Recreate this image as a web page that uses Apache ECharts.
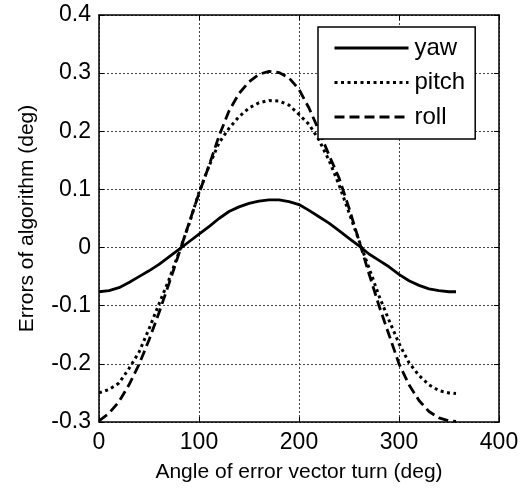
<!DOCTYPE html>
<html>
<head>
<meta charset="utf-8">
<script src="https://cdn.jsdelivr.net/npm/echarts@6/dist/echarts.min.js"></script>
<style>
  html, body { margin: 0; padding: 0; background: #fff; }
  #chart { width: 524px; height: 488px; }
</style>
</head>
<body>
<div id="chart"></div>
<script>
// 数据
var angles = [0, 10, 20, 30, 40, 50, 60, 70, 80, 90, 100, 110, 120, 130, 140, 150, 160, 170, 180,
    190, 200, 210, 220, 230, 240, 250, 260, 270, 280, 290, 300, 310, 320, 330, 340, 350, 357];
var yaw = [-0.076, -0.074, -0.069, -0.060, -0.050, -0.040, -0.029, -0.016, -0.003, 0.010, 0.023,
    0.036, 0.050, 0.062, 0.070, 0.076, 0.080, 0.082, 0.082, 0.079, 0.074, 0.064, 0.053, 0.042,
    0.029, 0.016, 0.003, -0.011, -0.022, -0.033, -0.046, -0.057, -0.065, -0.071, -0.074, -0.076, -0.076];
var pitch = [-0.250, -0.244, -0.233, -0.208, -0.180, -0.140, -0.097, -0.055, -0.008, 0.040, 0.095,
    0.140, 0.180, 0.205, 0.225, 0.240, 0.249, 0.253, 0.252, 0.245, 0.229, 0.212, 0.185, 0.150,
    0.108, 0.060, 0.012, -0.035, -0.083, -0.125, -0.165, -0.198, -0.220, -0.236, -0.246, -0.250, -0.251];
var roll = [-0.298, -0.285, -0.265, -0.236, -0.201, -0.159, -0.112, -0.062, -0.010, 0.042, 0.093,
    0.141, 0.192, 0.235, 0.265, 0.285, 0.298, 0.303, 0.301, 0.292, 0.272, 0.240, 0.201, 0.159,
    0.120, 0.068, 0.012, -0.045, -0.100, -0.150, -0.200, -0.236, -0.263, -0.282, -0.293, -0.298, -0.299];
var seriesNames = ['yaw', 'pitch', 'roll'];
var xTicks = { min: 0, max: 400, step: 100 };
var yTicks = { min: -0.3, max: 0.4, step: 0.1 };

var FONT = '"Liberation Sans", Arial, sans-serif';

function pairs(vals) {
    return angles.map(function (a, i) { return [a, vals[i]]; });
}

var chart = echarts.init(document.getElementById('chart'));

var tickStyle = { show: true, inside: true, length: 5, lineStyle: { color: '#000', width: 1 } };
var axisLineStyle = { show: true, onZero: false, lineStyle: { color: '#000', width: 1.5 } };
var gridLine = { show: true, lineStyle: { color: '#444', type: [2, 2], width: 1 } };

var option = {
    animation: false,
    backgroundColor: '#fff',
    grid: { left: 99, top: 15, right: 25, bottom: 64, containLabel: false },
    legend: {
        data: seriesNames,
        orient: 'vertical',
        left: 318,
        top: 27,
        padding: [9, 10, 10, 15],
        itemGap: 10.5,
        itemWidth: 74,
        itemHeight: 14,
        borderColor: '#000',
        borderWidth: 1.5,
        borderRadius: 0,
        backgroundColor: '#fff',
        lineStyle: { width: 3 },
        // 隐藏图例中的圆点
        itemStyle: { color: 'transparent', borderWidth: 0, opacity: 0 },
        textStyle: { fontFamily: FONT, fontSize: 24, color: '#000', padding: [0, 0, 0, 1] }
    },
    xAxis: [
        {
            type: 'value',
            min: xTicks.min,
            max: xTicks.max,
            interval: xTicks.step,
            name: 'Angle of error vector turn (deg)',
            nameLocation: 'middle',
            nameGap: 40,
            nameTextStyle: { fontFamily: FONT, fontSize: 21, color: '#000' },
            axisLine: axisLineStyle,
            axisTick: tickStyle,
            axisLabel: { fontFamily: FONT, fontSize: 23, color: '#000', margin: 9 },
            splitLine: gridLine
        },
        {
            type: 'value',
            position: 'top',
            min: xTicks.min,
            max: xTicks.max,
            interval: xTicks.step,
            axisLine: axisLineStyle,
            axisTick: tickStyle,
            axisLabel: { show: false },
            splitLine: { show: false }
        }
    ],
    yAxis: [
        {
            type: 'value',
            min: yTicks.min,
            max: yTicks.max,
            interval: yTicks.step,
            name: 'Errors of algorithm (deg)',
            nameLocation: 'middle',
            nameGap: 61,
            nameTextStyle: { fontFamily: FONT, fontSize: 21, color: '#000' },
            axisLine: axisLineStyle,
            axisTick: tickStyle,
            axisLabel: {
                fontFamily: FONT, fontSize: 23, color: '#000', margin: 8,
                formatter: function (v) { return Math.abs(v) < 1e-9 ? '0' : v.toFixed(1); }
            },
            splitLine: gridLine
        },
        {
            type: 'value',
            position: 'right',
            min: yTicks.min,
            max: yTicks.max,
            interval: yTicks.step,
            axisLine: axisLineStyle,
            axisTick: tickStyle,
            axisLabel: { show: false },
            splitLine: { show: false }
        }
    ],
    series: [
        {
            name: 'yaw',
            type: 'line',
            data: pairs(yaw),
            symbol: 'none',
            lineStyle: { color: '#000', width: 2.8, type: 'solid' },
            itemStyle: { color: '#000' }
        },
        {
            name: 'pitch',
            type: 'line',
            data: pairs(pitch),
            symbol: 'none',
            lineStyle: { color: '#000', width: 3, type: [3, 3.5] },
            itemStyle: { color: '#000' }
        },
        {
            name: 'roll',
            type: 'line',
            data: pairs(roll),
            symbol: 'none',
            lineStyle: { color: '#000', width: 2.8, type: [10, 5] },
            itemStyle: { color: '#000' }
        }
    ]
};

chart.setOption(option);
</script>
</body>
</html>
